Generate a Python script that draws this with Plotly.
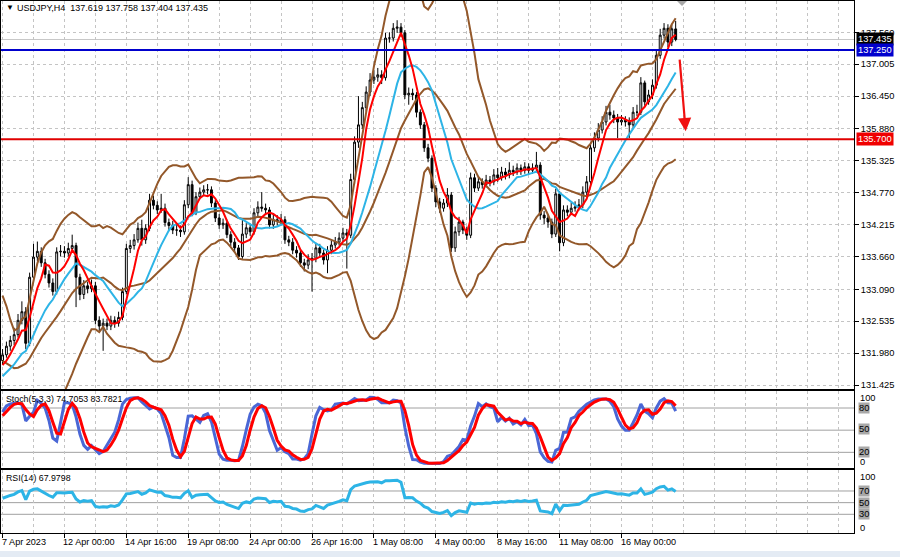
import numpy as np
import pandas as pd
import plotly.graph_objects as go

# ---------------- data (USDJPY H4) ----------------
N_PRE = 26  # bars before the first visible bar (needed to warm up indicators)

OPEN = [
    132.80, 133.00, 133.20, 133.40, 133.10, 132.70, 132.50, 132.75, 133.05, 133.15,
    132.95, 132.40, 131.85, 131.60, 131.40, 131.30, 131.25, 131.35, 131.45, 131.40,
    131.55, 131.60, 131.75, 131.70, 131.65, 131.70,
    131.85, 131.95, 132.10, 132.20, 132.30, 132.55, 132.70, 132.15, 133.30, 133.65,
    133.75, 133.55, 133.35, 133.20, 133.05, 133.74, 133.75, 133.72, 133.80, 133.85,
    133.30, 133.00, 133.15, 133.10, 133.15, 132.55, 132.45, 132.50, 132.45, 132.55,
    132.50, 132.60, 133.05, 133.80, 133.85, 133.95, 134.15, 133.95, 134.15, 134.64,
    134.55, 134.47, 134.50, 134.25, 134.20, 134.12, 134.12, 134.09, 134.56, 134.91,
    134.42, 134.70, 134.78, 134.82, 134.82, 134.59, 134.33, 134.21, 134.24, 134.04,
    133.91, 133.81, 133.66, 134.05, 134.16, 134.09, 134.42, 134.52, 134.50, 134.47,
    134.21, 134.30, 134.27, 134.30, 133.95, 133.91, 133.77, 133.72, 133.55, 133.51,
    133.60, 133.63, 133.81, 133.72, 133.60, 133.77, 133.86, 133.91, 133.98, 134.07,
    134.03, 135.00, 135.65, 135.95, 136.25, 136.52, 136.73, 136.78, 136.82, 136.77,
    137.46, 137.46, 137.63, 137.65, 137.55, 136.47, 136.50, 136.47, 136.17, 135.95,
    135.55, 135.37, 134.85, 134.61, 134.50, 134.59, 134.73, 133.81, 134.09, 134.26,
    134.12, 134.03, 135.03, 134.85, 134.96, 134.91, 134.99, 134.96, 135.08, 135.03,
    135.13, 135.08, 135.16, 135.13, 135.20, 135.16, 135.22, 135.16, 135.20, 135.25,
    134.38, 134.33, 134.26, 134.05, 134.75, 133.90, 134.47, 134.43, 134.50, 134.52,
    134.56, 134.78, 134.96, 135.55, 135.72, 135.86, 136.00, 136.17, 136.12, 136.07,
    136.00, 136.03, 136.00, 135.95, 136.17, 136.17, 136.68, 136.35, 136.47, 136.64,
    137.16, 137.51, 137.63, 137.39, 137.619,
]
HIGH = [
    133.10, 133.30, 133.55, 133.48, 133.18, 132.78, 132.85, 133.15, 133.28, 133.22,
    133.02, 132.48, 131.92, 131.68, 131.48, 131.38, 131.45, 131.55, 131.52, 131.64,
    131.70, 131.84, 131.82, 131.78, 131.78, 131.92,
    132.05, 132.18, 132.28, 132.42, 132.66, 132.88, 132.78, 133.38, 133.88, 133.92,
    133.82, 133.62, 133.42, 133.28, 133.82, 133.86, 133.84, 133.90, 134.04, 133.90,
    133.36, 133.25, 133.22, 133.26, 133.22, 132.62, 132.58, 132.58, 132.63, 132.62,
    132.70, 133.12, 133.88, 133.95, 134.05, 134.25, 134.30, 134.22, 134.75, 134.72,
    134.62, 134.75, 134.58, 134.32, 134.28, 134.22, 134.20, 134.64, 135.04, 134.98,
    134.78, 134.86, 134.90, 134.92, 134.88, 134.64, 134.40, 134.32, 134.30, 134.10,
    133.98, 133.86, 134.30, 134.24, 134.22, 134.50, 134.62, 134.78, 134.58, 134.52,
    134.40, 134.38, 134.40, 134.36, 134.02, 133.98, 133.84, 133.78, 133.62, 133.70,
    133.72, 133.90, 133.88, 133.78, 133.84, 133.94, 134.00, 134.08, 134.16, 134.14,
    135.10, 135.75, 136.45, 136.35, 136.62, 136.85, 136.90, 136.94, 136.90, 137.55,
    137.56, 137.72, 137.77, 137.72, 137.60, 136.60, 136.58, 136.52, 136.22, 136.00,
    135.62, 135.42, 134.90, 134.68, 134.66, 134.85, 134.78, 134.18, 134.35, 134.30,
    134.18, 135.12, 135.10, 135.05, 135.02, 135.08, 135.06, 135.18, 135.20, 135.22,
    135.20, 135.30, 135.24, 135.28, 135.26, 135.30, 135.28, 135.28, 135.48, 135.30,
    134.45, 134.38, 134.32, 134.84, 134.80, 134.55, 134.55, 134.60, 134.62, 134.66,
    134.88, 135.06, 135.64, 135.82, 135.98, 136.10, 136.28, 136.30, 136.20, 136.14,
    136.12, 136.10, 136.08, 136.26, 136.30, 136.78, 136.72, 136.56, 136.74, 137.25,
    137.62, 137.72, 137.70, 137.70, 137.758,
]
LOW = [
    132.72, 132.92, 133.12, 133.02, 132.62, 132.40, 132.44, 132.68, 132.98, 132.88,
    132.30, 131.75, 131.50, 131.30, 131.20, 131.12, 131.18, 131.28, 131.32, 131.34,
    131.48, 131.54, 131.62, 131.58, 131.58, 131.64,
    131.78, 131.90, 132.02, 132.12, 132.25, 132.48, 132.05, 132.10, 133.22, 133.58,
    133.48, 133.28, 133.12, 132.98, 133.00, 133.66, 133.64, 133.66, 133.74, 132.78,
    132.90, 132.92, 133.02, 133.04, 132.48, 132.36, 132.02, 132.38, 132.38, 132.42,
    132.44, 132.55, 133.00, 133.72, 133.78, 133.90, 133.85, 133.88, 134.10, 134.48,
    134.40, 134.42, 134.18, 134.10, 134.05, 134.02, 134.00, 134.04, 134.50, 134.36,
    134.38, 134.66, 134.72, 134.74, 134.52, 134.26, 134.14, 134.14, 133.98, 133.84,
    133.74, 133.60, 133.62, 133.98, 134.02, 134.04, 134.36, 134.44, 134.40, 134.15,
    134.14, 134.20, 134.22, 133.88, 133.84, 133.70, 133.64, 133.48, 133.40, 133.44,
    133.05, 133.56, 133.64, 133.52, 133.37, 133.70, 133.80, 133.85, 133.92, 133.45,
    133.98, 134.92, 135.55, 135.88, 136.18, 136.45, 136.66, 136.70, 136.66, 136.72,
    137.38, 137.40, 137.55, 137.48, 136.40, 136.30, 136.38, 136.08, 135.88, 135.48,
    135.30, 134.78, 134.52, 134.42, 134.44, 134.52, 133.74, 133.74, 134.02, 134.05,
    133.95, 133.98, 134.78, 134.80, 134.84, 134.86, 134.88, 134.90, 134.96, 134.98,
    135.00, 135.02, 135.06, 135.08, 135.08, 135.10, 135.08, 135.10, 135.14, 134.30,
    134.22, 134.16, 133.98, 134.00, 133.75, 133.84, 134.36, 134.38, 134.44, 134.46,
    134.50, 134.72, 134.90, 135.48, 135.66, 135.80, 135.94, 136.04, 135.98, 135.72,
    135.94, 135.92, 135.72, 135.88, 136.10, 136.12, 136.28, 136.30, 136.40, 136.58,
    137.10, 137.45, 137.30, 137.32, 137.404,
]
CLOSE = [
    133.00, 133.20, 133.40, 133.10, 132.70, 132.50, 132.75, 133.05, 133.15, 132.95,
    132.40, 131.85, 131.60, 131.40, 131.30, 131.25, 131.35, 131.45, 131.40, 131.55,
    131.60, 131.75, 131.70, 131.65, 131.70, 131.85,
    131.95, 132.10, 132.20, 132.30, 132.55, 132.70, 132.15, 133.30, 133.65, 133.75,
    133.55, 133.35, 133.20, 133.05, 133.74, 133.75, 133.72, 133.80, 133.85, 133.30,
    133.00, 133.15, 133.10, 133.15, 132.55, 132.45, 132.50, 132.45, 132.55, 132.50,
    132.60, 133.05, 133.80, 133.85, 133.95, 134.15, 133.95, 134.15, 134.64, 134.55,
    134.47, 134.50, 134.25, 134.20, 134.12, 134.12, 134.09, 134.56, 134.91, 134.42,
    134.70, 134.78, 134.82, 134.82, 134.59, 134.33, 134.21, 134.24, 134.04, 133.91,
    133.81, 133.66, 134.05, 134.16, 134.09, 134.42, 134.52, 134.50, 134.47, 134.21,
    134.30, 134.27, 134.30, 133.95, 133.91, 133.77, 133.72, 133.55, 133.51, 133.60,
    133.63, 133.81, 133.72, 133.60, 133.77, 133.86, 133.91, 133.98, 134.07, 134.03,
    135.00, 135.65, 135.95, 136.25, 136.52, 136.73, 136.78, 136.82, 136.77, 137.46,
    137.46, 137.63, 137.65, 137.55, 136.47, 136.50, 136.47, 136.17, 135.95, 135.55,
    135.37, 134.85, 134.61, 134.50, 134.59, 134.73, 133.81, 134.09, 134.26, 134.12,
    134.03, 135.03, 134.85, 134.96, 134.91, 134.99, 134.96, 135.08, 135.03, 135.13,
    135.08, 135.16, 135.13, 135.20, 135.16, 135.22, 135.16, 135.20, 135.25, 134.38,
    134.33, 134.26, 134.05, 134.75, 133.90, 134.47, 134.43, 134.50, 134.52, 134.56,
    134.78, 134.96, 135.55, 135.72, 135.86, 136.00, 136.17, 136.12, 136.07, 136.00,
    136.03, 136.00, 135.95, 136.17, 136.17, 136.68, 136.35, 136.47, 136.64, 137.16,
    137.51, 137.63, 137.39, 137.62, 137.435,
]

PRICE_TICKS = [137.560, 137.005, 136.450, 135.880, 135.325, 134.770,
               134.215, 133.660, 133.090, 132.535, 131.980, 131.425]
DATE_TICK_BARS = [0, 16, 32, 48, 64, 80, 96, 112, 128, 144, 160]
DATE_LABELS = ["7 Apr 2023", "12 Apr 00:00", "14 Apr 16:00", "19 Apr 08:00",
               "24 Apr 00:00", "26 Apr 16:00", "1 May 08:00", "4 May 00:00",
               "8 May 16:00", "11 May 08:00", "16 May 00:00"]
LEVEL_BLUE = 137.250
LEVEL_RED = 135.700
LAST_PRICE = 137.435
ARROW_FROM = (175.0, 137.11)
ARROW_TO = (176.6, 135.84)
STOCH_LEVELS = [80, 50, 20]
RSI_LEVELS = [70, 50, 30]

TITLE_MAIN = "USDJPY,H4  137.619 137.758 137.404 137.435"
TITLE_STOCH = "Stoch(5,3,3) 74.7053 83.7821"
TITLE_RSI = "RSI(14) 67.9798"

# ---------------- indicators ----------------
o = pd.Series(OPEN, dtype=float)
c = pd.Series(CLOSE, dtype=float)
h = pd.concat([pd.Series(HIGH, dtype=float), o, c], axis=1).max(axis=1)
l = pd.concat([pd.Series(LOW, dtype=float), o, c], axis=1).min(axis=1)
idx = np.arange(len(c)) - N_PRE

ma_fast = c.rolling(5).mean()
ma_slow = c.rolling(13).mean()
bb_mid = c.rolling(20).mean()
bb_sd = c.rolling(20).std(ddof=0)
bb_up = bb_mid + 2 * bb_sd
bb_lo = bb_mid - 2 * bb_sd

ll = l.rolling(5).min()
hh = h.rolling(5).max()
st_main = (c - ll).rolling(3).sum() / (hh - ll).rolling(3).sum() * 100
st_sig = st_main.rolling(3).mean()

d = c.diff()
gain = d.clip(lower=0)
loss = -d.clip(upper=0)
ag = gain.ewm(alpha=1 / 14, adjust=False).mean()
al = loss.ewm(alpha=1 / 14, adjust=False).mean()
rsi = 100 - 100 / (1 + ag / al)

vis = idx >= 0
xv = idx[vis]

# ---------------- figure ----------------
W, H = 900, 557
FONT = "Liberation Sans, Arial, sans-serif"
BROWN = "#93582A"
CYAN = "#2DB4E6"


def py(pix):
    return 1 - pix / H


def px(pix):
    return pix / W


fig = go.Figure()

fig.add_trace(go.Candlestick(
    x=xv, open=o[vis], high=h[vis], low=l[vis], close=c[vis],
    increasing=dict(line=dict(color="black", width=1), fillcolor="white"),
    decreasing=dict(line=dict(color="black", width=1), fillcolor="black"),
    whiskerwidth=0, showlegend=False, hoverinfo="skip", xaxis="x", yaxis="y"))

for ser, col, wd in [(bb_up, BROWN, 2), (bb_lo, BROWN, 2), (bb_mid, BROWN, 2),
                     (ma_slow, CYAN, 2), (ma_fast, "#FF0000", 2)]:
    fig.add_trace(go.Scatter(x=xv, y=ser[vis], mode="lines",
                             line=dict(color=col, width=wd),
                             showlegend=False, hoverinfo="skip",
                             xaxis="x", yaxis="y"))

fig.add_trace(go.Scatter(x=xv, y=st_main[vis], mode="lines",
                         line=dict(color="#4A67D6", width=3),
                         showlegend=False, hoverinfo="skip", xaxis="x2", yaxis="y2"))
fig.add_trace(go.Scatter(x=xv, y=st_sig[vis], mode="lines",
                         line=dict(color="#FF0000", width=3),
                         showlegend=False, hoverinfo="skip", xaxis="x2", yaxis="y2"))
fig.add_trace(go.Scatter(x=xv, y=rsi[vis], mode="lines",
                         line=dict(color=CYAN, width=3),
                         showlegend=False, hoverinfo="skip", xaxis="x3", yaxis="y3"))

XR = [-0.4, 220.1]
GRID = dict(showgrid=True, gridcolor="#C4C4C4", griddash="3px,3px", gridwidth=1)
xcommon = dict(domain=[px(1), px(854)], range=XR, zeroline=False,
               showline=True, mirror=True, linecolor="black", linewidth=1,
               tickmode="array", tickvals=DATE_TICK_BARS, showticklabels=False,
               minor=dict(dtick=8, tick0=0, ticks="", **GRID), **GRID)

price_p = lambda ypix: 137.56 - (ypix - 32.3) / 57.49

fig.update_layout(
    width=W, height=H, margin=dict(l=0, r=0, t=0, b=0),
    paper_bgcolor="white", plot_bgcolor="white",
    font=dict(family=FONT, size=9, color="black"),
    showlegend=False, hovermode=False,
    xaxis=dict(anchor="y", ticks="", rangeslider=dict(visible=False), **xcommon),
    xaxis2=dict(anchor="y2", matches="x", ticks="", **xcommon),
    xaxis3=dict(anchor="y3", matches="x", ticks="outside", ticklen=4,
                tickcolor="black", **xcommon),
    yaxis=dict(domain=[py(389), py(1)], range=[price_p(389), price_p(1)],
               side="right", anchor="x", tickmode="array", tickvals=PRICE_TICKS,
               ticktext=[f"{v:.3f}" for v in PRICE_TICKS],
               ticks="outside", ticklen=4, tickcolor="black",
               tickfont=dict(size=9.3, family=FONT, color="black"),
               showline=True, mirror=True, linecolor="black", zeroline=False, **GRID),
    yaxis2=dict(domain=[py(468), py(391)], range=[-1.2, 103], anchor="x2",
                side="right", showticklabels=False, ticks="", showgrid=False,
                showline=True, mirror=True, linecolor="black", zeroline=False),
    yaxis3=dict(domain=[py(533), py(470)], range=[-2.06, 106], anchor="x3",
                side="right", showticklabels=False, ticks="", showgrid=False,
                showline=True, mirror=True, linecolor="black", zeroline=False),
)

shapes = []
for v in STOCH_LEVELS:
    shapes.append(dict(type="line", xref="x2 domain", x0=0, x1=1, yref="y2", y0=v, y1=v,
                       line=dict(color="#A0A0A0", width=1), layer="below"))
for v in RSI_LEVELS:
    shapes.append(dict(type="line", xref="x3 domain", x0=0, x1=1, yref="y3", y0=v, y1=v,
                       line=dict(color="#A0A0A0", width=1), layer="below"))
shapes.append(dict(type="line", xref="x domain", x0=0, x1=1, yref="y", y0=LAST_PRICE,
                   y1=LAST_PRICE, line=dict(color="#C8C8C8", width=1), layer="below"))
shapes.append(dict(type="line", xref="x domain", x0=0, x1=1, yref="y", y0=LEVEL_BLUE,
                   y1=LEVEL_BLUE, line=dict(color="#0000CD", width=2)))
shapes.append(dict(type="line", xref="x domain", x0=0, x1=1, yref="y", y0=LEVEL_RED,
                   y1=LEVEL_RED, line=dict(color="#E00000", width=2)))
shapes.append(dict(type="path", xref="paper", yref="paper",
                   path=f"M {px(677)} {py(1)} L {px(687)} {py(1)} L {px(682)} {py(6)} Z",
                   fillcolor="#A8A8A8", line=dict(width=0)))
shapes.append(dict(type="rect", xref="paper", yref="paper", x0=0, x1=1,
                   y0=0, y1=py(551), fillcolor="#E4EBF4", line=dict(width=0)))
fig.update_layout(shapes=shapes)

ann = []
ann.append(dict(text="▼", x=px(4), y=py(8), xref="paper", yref="paper",
                xanchor="left", yanchor="middle", showarrow=False,
                font=dict(size=8, color="black")))
ann.append(dict(text=TITLE_MAIN, x=px(15), y=py(8), xref="paper", yref="paper",
                xanchor="left", yanchor="middle", showarrow=False,
                font=dict(size=9.0, color="black")))
ann.append(dict(text=TITLE_STOCH, x=px(4), y=py(399), xref="paper", yref="paper",
                xanchor="left", yanchor="middle", showarrow=False,
                font=dict(size=8.8, color="black")))
ann.append(dict(text=TITLE_RSI, x=px(4), y=py(478), xref="paper", yref="paper",
                xanchor="left", yanchor="middle", showarrow=False,
                font=dict(size=8.8, color="black")))
for b, t in zip(DATE_TICK_BARS, DATE_LABELS):
    ann.append(dict(text=t, x=b, y=py(542), xref="x3", yref="paper",
                    xanchor="left", yanchor="middle", showarrow=False, xshift=-3,
                    font=dict(size=9.1, color="black")))
for val, bg in [(LAST_PRICE, "#000000"), (LEVEL_BLUE, "#0000CD"), (LEVEL_RED, "#F00000")]:
    ann.append(dict(text=f"{val:.3f}", x=px(856), y=val, xref="paper", yref="y",
                    xanchor="left", yanchor="middle", showarrow=False,
                    bgcolor=bg, borderpad=1,
                    font=dict(size=9.3, color="white")))


def side_label(text, ypix, boxed):
    d = dict(text=text, x=px(858), y=py(ypix), xref="paper", yref="paper",
             xanchor="left", yanchor="middle", showarrow=False,
             font=dict(size=9.3, color="black"))
    if boxed:
        d.update(bgcolor="#A8A8A8", borderpad=0)
    return d


for t, yp, bx in [("100", 397.5, False), ("80", 408, True), ("50", 429.3, True),
                  ("20", 452.3, True), ("0", 461.5, False),
                  ("100", 476.5, False), ("70", 491, True), ("50", 502.5, True),
                  ("30", 514.3, True), ("0", 527.5, False)]:
    ann.append(side_label(t, yp, bx))
ann.append(dict(x=ARROW_TO[0], y=ARROW_TO[1], ax=ARROW_FROM[0], ay=ARROW_FROM[1],
                xref="x", yref="y", axref="x", ayref="y", text="", showarrow=True,
                arrowhead=2, arrowsize=1.2, arrowwidth=2.2, arrowcolor="#F01010"))
fig.update_layout(annotations=ann)

fig.write_html("out.html", config={"displayModeBar": False, "staticPlot": True},
               post_script="document.body.style.margin='0';document.body.style.overflow='hidden';")
